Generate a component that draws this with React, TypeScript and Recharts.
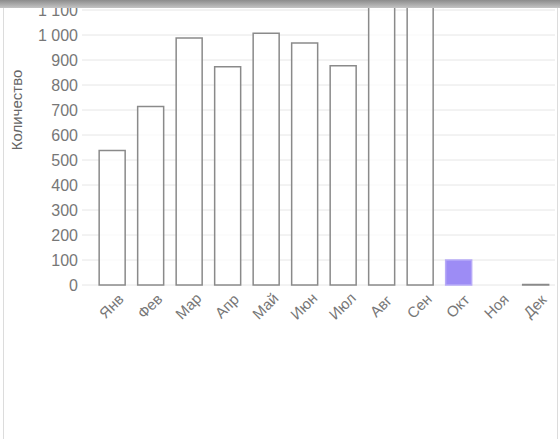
import React from 'react';
import { BarChart, Bar, XAxis, YAxis, CartesianGrid, Cell } from 'recharts';

const months = ['Янв', 'Фев', 'Мар', 'Апр', 'Май', 'Июн', 'Июл', 'Авг', 'Сен', 'Окт', 'Ноя', 'Дек'];
const counts = [538, 714, 988, 873, 1007, 968, 877, 1260, 1300, 100, 0, 2];
const highlighted = ['Окт'];
const yTicks = [0, 100, 200, 300, 400, 500, 600, 700, 800, 900, 1000, 1100, 1200, 1300, 1400];

const data = months.map((m, i) => ({ month: m, count: counts[i] }));

const fmt = (v: number) => String(v).replace(/\B(?=(\d{3})+(?!\d))/g, ' ');

const MonthTick = (props: any) => {
    const { x, y, payload } = props;
    return (
        <g transform={`translate(${x},${y + 14})`}>
            <text
                transform="rotate(-45)"
                textAnchor="middle"
                dominantBaseline="middle"
                fill="#777"
                fontSize={15}
                fontFamily="'Liberation Sans', Arial, sans-serif"
            >
                {payload.value}
            </text>
        </g>
    );
};

const App: React.FC = () => {
    return (
        <div
            style={{
                position: 'fixed',
                top: 0,
                left: 0,
                width: 560,
                height: 439,
                overflow: 'hidden',
                background: '#fff',
                fontFamily: "'Liberation Sans', Arial, sans-serif",
            }}
        >
            <div style={{ position: 'absolute', top: -70, left: 0 }}>
                <BarChart
                    width={560}
                    height={509}
                    data={data}
                    margin={{ top: 5, right: 5, bottom: 94, left: 0 }}
                    barCategoryGap="16%"
                >
                    <CartesianGrid vertical={false} stroke="#e6e6e6" />
                    <XAxis
                        dataKey="month"
                        axisLine={false}
                        tickLine={false}
                        interval={0}
                        height={60}
                        tick={<MonthTick />}
                    />
                    <YAxis
                        width={93}
                        domain={[0, 1400]}
                        ticks={yTicks}
                        interval={0}
                        axisLine={false}
                        tickLine={{ stroke: '#e6e6e6' }}
                        tickSize={11}
                        tickMargin={4}
                        tickFormatter={fmt}
                        tick={{ fill: '#777', fontSize: 16, fontFamily: "'Liberation Sans', Arial, sans-serif" }}
                        label={{
                            value: 'Количество',
                            angle: -90,
                            position: 'insideLeft',
                            offset: 17,
                            style: {
                                fill: '#666',
                                fontSize: 15,
                                textAnchor: 'middle',
                                fontFamily: "'Liberation Sans', Arial, sans-serif",
                            },
                        }}
                    />
                    <Bar dataKey="count" stroke="#8a8a8a" strokeWidth={1.5} isAnimationActive={false}>
                        {data.map((d, i) => (
                            <Cell
                                key={`c-${i}`}
                                fill={highlighted.includes(d.month) ? '#9d8cf5' : '#ffffff'}
                                fillOpacity={highlighted.includes(d.month) ? 1 : 0.75}
                                stroke={highlighted.includes(d.month) ? '#b7aaf7' : '#8a8a8a'}
                            />
                        ))}
                    </Bar>
                </BarChart>
            </div>
            <div style={{ position: 'absolute', top: 0, left: 3, width: 1, height: 439, background: '#dcdcdc' }} />
            <div style={{ position: 'absolute', top: 0, left: 557, width: 1, height: 439, background: '#dcdcdc' }} />
            <div
                style={{
                    position: 'absolute',
                    top: 0,
                    left: 0,
                    width: 560,
                    height: 8,
                    background: 'linear-gradient(#8c8c8c, #c4c4c4)',
                }}
            />
        </div>
    );
};

export default App;
